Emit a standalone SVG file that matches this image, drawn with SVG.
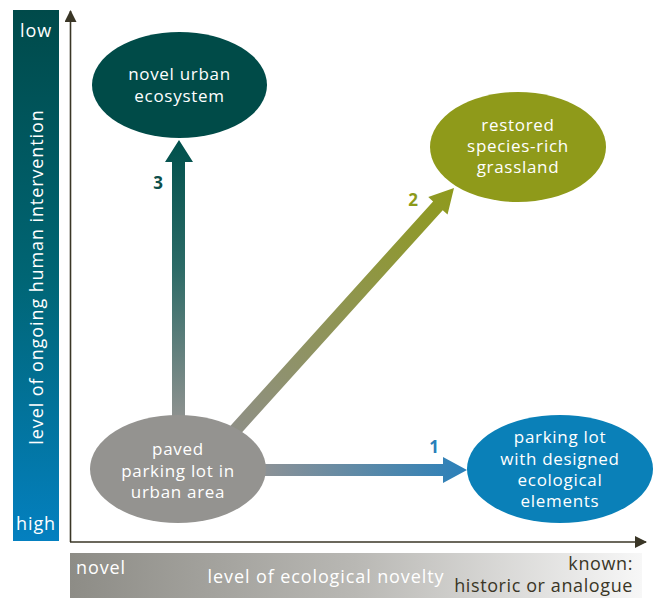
<svg xmlns="http://www.w3.org/2000/svg" width="654" height="598" viewBox="0 0 654 598">
<defs>
<linearGradient id="gLeft" x1="0" y1="0" x2="0" y2="1">
<stop offset="0" stop-color="#004a4a"/>
<stop offset="0.5" stop-color="#006574"/>
<stop offset="1" stop-color="#0480c0"/>
</linearGradient>
<linearGradient id="gBottom" x1="0" y1="0" x2="1" y2="0">
<stop offset="0" stop-color="#8d8c86"/>
<stop offset="0.5" stop-color="#b9b8b4"/>
<stop offset="1" stop-color="#f7f7f7"/>
</linearGradient>
<linearGradient id="g3" gradientUnits="userSpaceOnUse" x1="0" y1="420" x2="0" y2="140">
<stop offset="0" stop-color="#8f9290"/>
<stop offset="0.55" stop-color="#2b6a66"/>
<stop offset="1" stop-color="#00504c"/>
</linearGradient>
<linearGradient id="g1" gradientUnits="userSpaceOnUse" x1="250" y1="0" x2="467" y2="0">
<stop offset="0" stop-color="#939393"/>
<stop offset="1" stop-color="#2a80ba"/>
</linearGradient>
<linearGradient id="g2" gradientUnits="userSpaceOnUse" x1="-340" y1="0" x2="0" y2="0">
<stop offset="0" stop-color="#8f8f8a"/>
<stop offset="1" stop-color="#8f9a1c"/>
</linearGradient>
<marker id="axHead" viewBox="0 0 12 12" refX="11" refY="6" markerWidth="12" markerHeight="12" markerUnits="userSpaceOnUse" orient="auto">
<path d="M0,0 L12,6 L0,12 Z" fill="#3a3626"/>
</marker>
</defs>
<style>
text { font-family: "Open Sans", "Noto Sans", "DejaVu Sans", sans-serif; }
.w { fill: #ffffff; font-size: 18px; letter-spacing: 0.9px; }
.d { fill: #3a3626; font-size: 18px; letter-spacing: 0.6px; text-anchor: end; }
.node { fill: #ffffff; font-size: 17px; letter-spacing: 0.7px; text-anchor: middle; }
.num { font-size: 17px; font-weight: bold; text-anchor: middle; }
.axis { stroke: #3a3626; stroke-width: 1.6; fill: none; }
</style>

<g id="left-scale">
<rect x="13" y="10" width="46" height="531" fill="url(#gLeft)"/>
<text class="w" x="36" y="37" text-anchor="middle">low</text>
<text class="w" x="36" y="530" text-anchor="middle">high</text>
<text class="w" transform="translate(43,277) rotate(-90)" text-anchor="middle">level of ongoing human intervention</text>
</g>

<g id="bottom-scale">
<rect x="70" y="553" width="572" height="45" fill="url(#gBottom)"/>
<text class="w" x="76" y="574">novel</text>
<text class="w" x="326" y="583" text-anchor="middle">level of ecological novelty</text>
<text class="d" x="633" y="570">known:</text>
<text class="d" x="633" y="592">historic or analogue</text>
</g>

<g id="axes">
<path class="axis" d="M70.5,542 L70.5,11" marker-end="url(#axHead)"/>
<path class="axis" d="M70,542 L646,542" marker-end="url(#axHead)"/>
</g>

<g id="connectors">
<g id="arrow3">
<path d="M172,425 L172,162 L165,162 L179,140 L193,162 L185,162 L185,425 Z" fill="url(#g3)"/>
<text class="num" x="158" y="189" fill="#0d4f4b">3</text>
</g>
<g id="arrow2">
<g transform="translate(454,188) rotate(-47.9)">
<path d="M-340,-6.5 L-24,-6.5 L-24,-13 L0,0 L-24,13 L-24,6.5 L-340,6.5 Z" fill="url(#g2)"/>
</g>
<text class="num" x="413" y="206" fill="#8c9a1a">2</text>
</g>
<g id="arrow1">
<path d="M250,464 L443,464 L443,457 L467,470 L443,483 L443,476 L250,476 Z" fill="url(#g1)"/>
<text class="num" x="434" y="453" fill="#2a80ba">1</text>
</g>
</g>

<g id="node-novel-urban">
<ellipse cx="179.5" cy="85" rx="87.5" ry="53" fill="#004b48"/>
<text class="node" x="179.5" y="80">novel urban</text>
<text class="node" x="179.5" y="102">ecosystem</text>
</g>

<g id="node-restored">
<ellipse cx="518" cy="147" rx="88" ry="55" fill="#8f9a1a"/>
<text class="node" x="518" y="131">restored</text>
<text class="node" x="518" y="152">species-rich</text>
<text class="node" x="518" y="173">grassland</text>
</g>

<g id="node-paved">
<ellipse cx="178" cy="469" rx="88" ry="54" fill="#949390"/>
<text class="node" x="178" y="455">paved</text>
<text class="node" x="178" y="477">parking lot in</text>
<text class="node" x="178" y="498">urban area</text>
</g>

<g id="node-designed">
<ellipse cx="560" cy="469" rx="93" ry="54" fill="#0a80b8"/>
<text class="node" x="560" y="443">parking lot</text>
<text class="node" x="560" y="465">with designed</text>
<text class="node" x="560" y="486">ecological</text>
<text class="node" x="560" y="507">elements</text>
</g>
</svg>
